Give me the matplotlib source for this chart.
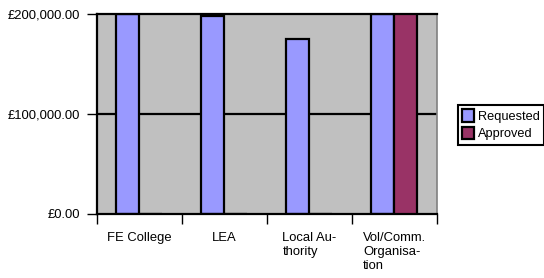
import numpy as np
import matplotlib
matplotlib.use("Agg")
import matplotlib.pyplot as plt
from matplotlib.ticker import FuncFormatter

plt.rcParams['font.family'] = ['Liberation Sans', 'DejaVu Sans']

categories = ["FE College", "LEA", "Local Au-\nthority", "Vol/Comm.\nOrganisa-\ntion"]
requested = [200000, 198000, 175000, 200000]
approved = [0, 0, 0, 200000]

fig = plt.figure(figsize=(5.44, 2.78), dpi=100)
ax = fig.add_axes((97 / 544, 1 - 214 / 278, 340 / 544, 200 / 278))
ax.set_facecolor("#C0C0C0")

x = np.arange(len(categories))
w = 0.27
ax.bar(x - 0.14, requested, w, color="#9999FF", edgecolor="black",
       linewidth=1.6, label="Requested", zorder=3)
ax.bar(x + 0.13, approved, w, color="#993366", edgecolor="black",
       linewidth=1.6, label="Approved", zorder=5)

ax.axhline(100000, color="black", linewidth=1.6, zorder=2)

ax.set_xlim(-0.5, len(categories) - 0.5)
ax.set_ylim(0, 200000)

ax.set_yticks([0, 100000, 200000])
ax.yaxis.set_major_formatter(FuncFormatter(lambda v, p: "£{:,.2f}".format(v)))
ax.tick_params(axis="y", direction="out", length=7, width=1, pad=5, labelsize=9.4)

ax.set_xticks(np.arange(-0.5, len(categories)), labels=[])
ax.set_xticks(x, labels=categories, minor=True, multialignment="left", va="top")
ax.tick_params(axis="x", which="major", direction="out", length=7, width=1)
ax.tick_params(axis="x", which="minor", length=0, pad=13, labelsize=9.4)

for s in ("left", "top", "bottom"):
    ax.spines[s].set_linewidth(1.6)
    ax.spines[s].set_zorder(4)
ax.spines["right"].set_color("#808080")
ax.spines["right"].set_linewidth(1.2)

leg = fig.legend(loc="upper left", bbox_to_anchor=(458 / 544, 1 - 105 / 278),
                 borderaxespad=0, fontsize=9.2, fancybox=False, shadow=False,
                 edgecolor="black", framealpha=1, handlelength=0.9,
                 handleheight=1.1, handletextpad=0.3, borderpad=0.35,
                 labelspacing=0.3)
leg.get_frame().set_linewidth(1.5)

fig.savefig("out.png", dpi=100)
